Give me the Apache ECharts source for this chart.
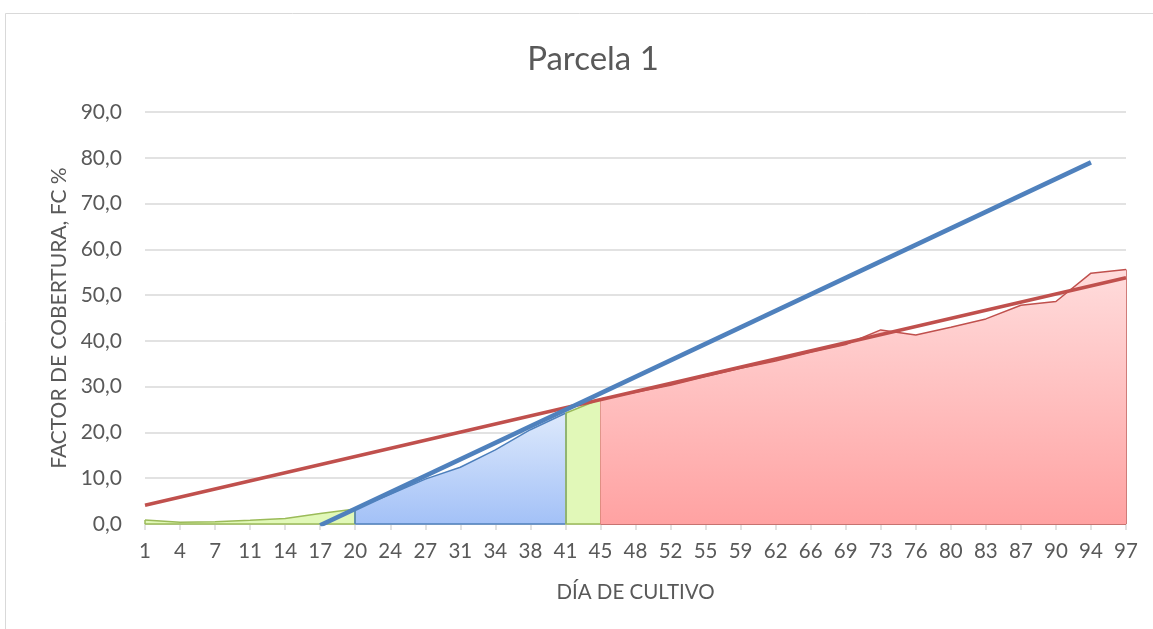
<!DOCTYPE html>
<html>
<head>
<meta charset="utf-8">
<script src="https://cdn.jsdelivr.net/npm/echarts@6/dist/echarts.min.js"></script>
<style>
  html, body { margin: 0; padding: 0; background: #fff; }
  #root { width: 1153px; height: 629px; }
</style>
</head>
<body>
<div id="root"></div>
<script>
// dias de cultivo (eje X)
var days = ['1', '4', '7', '11', '14', '17', '20', '24', '27', '31', '34', '38', '41', '45',
  '48', '52', '55', '59', '62', '66', '69', '73', '76', '80', '83', '87', '90', '94', '97']
// factor de cobertura FC %
var fc = [0.9, 0.4, 0.5, 0.8, 1.2, 2.3, 3.3, 6.5, 9.8, 12.4, 16.2, 20.6, 24.2, 27.3,
  28.8, 30.3, 32.2, 34.0, 35.6, 37.5, 39.2, 42.4, 41.3, 43.0, 44.8, 47.8, 48.6, 54.8, 55.6]

// tramos (indices de inicio / fin en days)
var stageStart = [0, 6, 12, 13]
var stageEnd = [6, 12, 13, 28]

// lineas de tendencia (dia, valor)
var blueTrendDays = ['17', '94']
var blueTrendValues = [-0.3, 79.0]
var redTrendDays = ['1', '97']
var redTrendValues = [4.1, 53.8]

var yTicks = [0, 10, 20, 30, 40, 50, 60, 70, 80, 90]

var FONT = 'Lato'
var TXT = '#595959'

var stageStyles = [
  { border: '#9bbb59', fill: '#e1f8b8' },
  { border: '#4f81bd', fill: new echarts.graphic.LinearGradient(0, 0, 0, 1, [{ offset: 0, color: '#dde9fc' }, { offset: 1, color: '#a3c1f7' }]) },
  { border: '#9bbb59', fill: '#e1f8b8' },
  { border: '#c0504d', fill: new echarts.graphic.LinearGradient(0, 0, 0, 1, [{ offset: 0, color: '#ffdcdc' }, { offset: 1, color: '#ffa2a2' }]) }
]

var trendLine = function (names, values) {
  return days.map(function (d) {
    var k = names.indexOf(d)
    return k === -1 ? null : values[k]
  })
}

var series = []
for (var n = 0; n < stageStart.length; n++) {
  var s = stageStart[n]
  var e = stageEnd[n]
  var st = stageStyles[n]
  series.push({
    type: 'line',
    data: fc.map(function (v, i) { return (i >= s && i <= e) ? v : null }),
    showSymbol: false,
    symbol: 'none',
    z: 2 + n,
    lineStyle: { color: st.border, width: 1.5 },
    areaStyle: { color: st.fill, opacity: 1 },
    markLine: {
      silent: true,
      symbol: 'none',
      animation: false,
      label: { show: false },
      lineStyle: { color: st.border, width: 1.5, type: 'solid' },
      data: [
        [{ coord: [s, 0] }, { coord: [s, fc[s]] }],
        [{ coord: [e, 0] }, { coord: [e, fc[e]] }],
        [{ coord: [s, 0] }, { coord: [e, 0] }]
      ]
    }
  })
}

series.push({
  type: 'line',
  data: trendLine(redTrendDays, redTrendValues),
  connectNulls: true,
  showSymbol: false,
  symbol: 'none',
  z: 10,
  lineStyle: { color: '#c0504d', width: 3.5 }
})
series.push({
  type: 'line',
  data: trendLine(blueTrendDays, blueTrendValues),
  connectNulls: true,
  showSymbol: false,
  symbol: 'none',
  z: 11,
  lineStyle: { color: '#4f81bd', width: 4.5 }
})

var myChart = echarts.init(document.getElementById('root'))

var option = {
  animation: false,
  backgroundColor: '#fff',
  textStyle: { fontFamily: FONT },
  graphic: [{
    type: 'rect',
    shape: { x: 5.5, y: 13.5, width: 1170, height: 640 },
    style: { fill: 'none', stroke: '#d9d9d9', lineWidth: 1 },
    silent: true
  }],
  title: {
    text: 'Parcela 1',
    left: 588,
    textAlign: 'center',
    top: 38,
    textStyle: { fontFamily: FONT, fontSize: 33, fontWeight: 'normal', color: TXT }
  },
  grid: {
    left: 145,
    right: 27,
    top: 112,
    bottom: 105
  },
  xAxis: {
    type: 'category',
    data: days,
    boundaryGap: false,
    name: 'DÍA DE CULTIVO',
    nameLocation: 'middle',
    nameGap: 58,
    nameTextStyle: { fontFamily: FONT, fontSize: 20.5, color: TXT },
    axisLine: { lineStyle: { color: '#d9d9d9', width: 1.5 } },
    axisTick: { show: true, interval: 0, length: 6, lineStyle: { color: '#d9d9d9', width: 1.5 } },
    axisLabel: { interval: 0, margin: 17, fontFamily: FONT, fontSize: 20.5, color: TXT },
    splitLine: { show: false }
  },
  yAxis: {
    type: 'value',
    min: yTicks[0],
    max: yTicks[yTicks.length - 1],
    interval: 10,
    name: 'FACTOR DE COBERTURA, FC %',
    nameLocation: 'middle',
    nameGap: 75,
    nameRotate: 90,
    nameTextStyle: { fontFamily: FONT, fontSize: 21, color: TXT },
    axisLine: { show: false },
    axisTick: { show: false },
    axisLabel: {
      margin: 23,
      fontFamily: FONT,
      fontSize: 21,
      color: TXT,
      formatter: function (v) { return v.toFixed(1).replace('.', ',') }
    },
    splitLine: { lineStyle: { color: '#d9d9d9', width: 1.5 } }
  },
  series: series
}

myChart.setOption(option)
</script>
</body>
</html>
